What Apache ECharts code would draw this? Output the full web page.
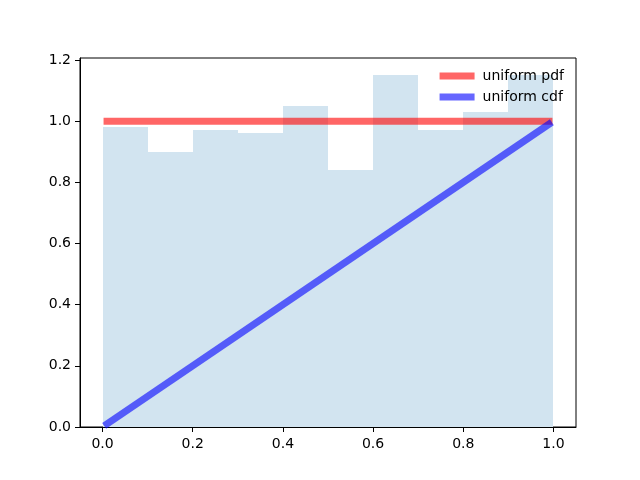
<!DOCTYPE html>
<html>
<head>
<meta charset="utf-8">
<script src="https://cdn.jsdelivr.net/npm/echarts@6/dist/echarts.min.js"></script>
<style>html,body{margin:0;padding:0;background:#fff;}#c{width:640px;height:480px;}</style>
</head>
<body>
<div id="c"></div>
<script>
var binEdges = [0.0, 0.1, 0.2, 0.3, 0.4, 0.5, 0.6, 0.7, 0.8, 0.9, 1.0];
var binHeights = [0.981, 0.899, 0.971, 0.961, 1.050, 0.841, 1.151, 0.971, 1.030, 1.151];
var pdfX = [0.01, 0.99];
var pdfY = [1.0, 1.0];
var cdfX = [0.01, 0.99];
var cdfY = [0.01, 0.99];
var xTicks = [0.0, 0.2, 0.4, 0.6, 0.8, 1.0];
var yTicks = [0.0, 0.2, 0.4, 0.6, 0.8, 1.0, 1.2];

var histData = binHeights.map(function (h, i) { return [binEdges[i], binEdges[i + 1], h]; });
var pdfData = pdfX.map(function (x, i) { return [x, pdfY[i]]; });
var cdfData = cdfX.map(function (x, i) { return [x, cdfY[i]]; });

var font = 'DejaVu Sans';
var chart = echarts.init(document.getElementById('c'), null, { renderer: 'canvas' });
chart.setOption({
  animation: false,
  backgroundColor: '#ffffff',
  grid: { left: 80, right: 64, top: 58, bottom: 53, show: true, borderColor: '#000', borderWidth: 1, backgroundColor: 'transparent' },
  legend: {
    data: [
      { name: 'uniform pdf', icon: 'rect', itemStyle: { color: 'rgba(255,0,0,0.6)' } },
      { name: 'uniform cdf', icon: 'rect', itemStyle: { color: 'rgba(0,0,255,0.6)' } }
    ],
    orient: 'vertical',
    right: 76,
    top: 69,
    padding: 0,
    itemWidth: 35,
    itemHeight: 7,
    itemGap: 7,
    textStyle: { fontFamily: font, fontSize: 14, color: '#000', padding: [0, 0, 0, 3] }
  },
  xAxis: {
    type: 'value', min: -0.05, max: 1.05,
    axisLine: { show: true, onZero: false, lineStyle: { color: '#000', width: 1 } },
    axisTick: { show: true, inside: false, length: 5, customValues: xTicks, lineStyle: { color: '#000' } },
    axisLabel: { customValues: xTicks, margin: 10, color: '#000', fontFamily: font, fontSize: 14, formatter: function (v) { return v.toFixed(1); } },
    splitLine: { show: false }
  },
  yAxis: {
    type: 'value', min: 0, max: 1.2065,
    axisLine: { show: true, onZero: false, lineStyle: { color: '#000', width: 1 } },
    axisTick: { show: true, inside: false, length: 5, customValues: yTicks, lineStyle: { color: '#000' } },
    axisLabel: { customValues: yTicks, margin: 9, color: '#000', fontFamily: font, fontSize: 14, formatter: function (v) { return v.toFixed(1); } },
    splitLine: { show: false }
  },
  series: [
    {
      type: 'custom',
      name: 'hist',
      data: histData,
      encode: { x: [0, 1], y: 2 },
      z: 1,
      renderItem: function (params, api) {
        var p0 = api.coord([api.value(0), api.value(2)]);
        var p1 = api.coord([api.value(1), 0]);
        var x0 = Math.round(p0[0]), x1 = Math.round(p1[0]);
        var y0 = Math.round(p0[1]), y1 = Math.round(p1[1]);
        return {
          type: 'rect',
          shape: { x: x0, y: y0, width: x1 - x0, height: y1 - y0 },
          style: { fill: 'rgb(210,228,240)' }
        };
      }
    },
    {
      type: 'line', name: 'uniform pdf', data: pdfData, z: 3,
      showSymbol: false, symbol: 'none',
      lineStyle: { color: 'rgba(255,0,0,0.6)', width: 7, cap: 'square' },
      itemStyle: { color: 'rgba(255,0,0,0.6)' }
    },
    {
      type: 'line', name: 'uniform cdf', data: cdfData, z: 3,
      showSymbol: false, symbol: 'none',
      lineStyle: { color: 'rgba(0,0,255,0.6)', width: 7, cap: 'square' },
      itemStyle: { color: 'rgba(0,0,255,0.6)' }
    }
  ]
});
</script>
</body>
</html>
